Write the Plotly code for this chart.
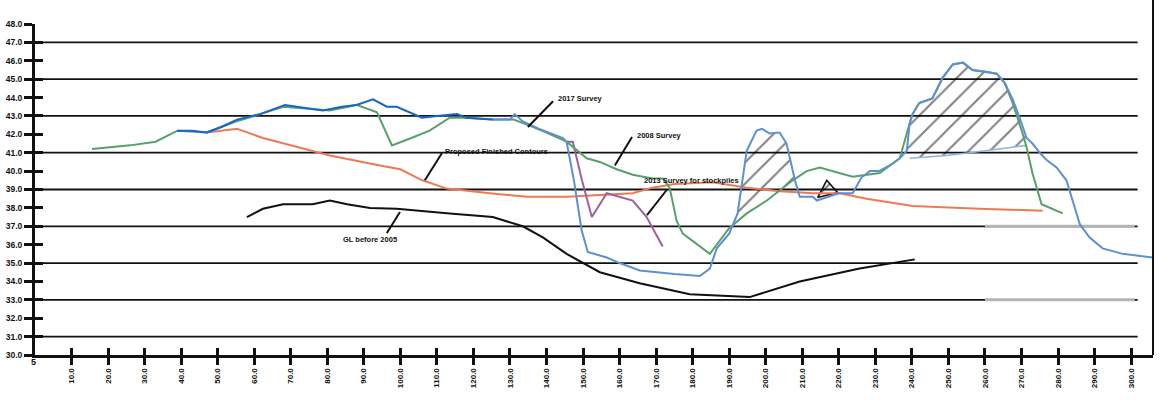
import plotly.graph_objects as go

# ---- chainage (m) / level (m) data -------------------------------------
survey_2017_west_x = [38.9, 43, 47, 51, 55.3, 61.6, 68.4, 73, 78.8, 84, 88, 92.5, 94.5, 96.3, 99,
                      105.9, 110, 115.5, 118, 125.3]
survey_2017_west_y = [42.2, 42.2, 42.1, 42.4, 42.8, 43.1, 43.6, 43.45, 43.3, 43.5, 43.6, 43.9, 43.7,
                      43.5, 43.5, 42.9, 43.0, 43.1, 42.9, 42.8]

survey_2017_east_x = [125.3, 130, 131.3, 133.5, 138, 144.5, 145.5, 147.5, 149.6, 151.3, 156.5, 160,
                      165.5, 175, 182, 184.7, 186.6, 190, 192.3, 193.4, 194.8, 197.5, 199, 201,
                      203.8, 205.7, 208, 209.3, 212.9, 214, 217, 220, 223.8, 226.2, 228.5, 231,
                      234.7, 236.7, 238.6, 239.4, 240.2, 242, 245.6, 248.5, 251.2, 254, 256.6,
                      260.5, 263.2, 265.4, 267.6, 269.5, 271.4, 273, 275, 276.9, 279.6, 282.3,
                      284, 286, 288.6, 292.2, 297.7, 305.9]
survey_2017_east_y = [42.8, 42.8, 43.1, 42.7, 42.3, 41.8, 41.6, 39.5, 36.8, 35.6, 35.3, 35.0,
                      34.6, 34.4, 34.3, 34.7, 35.8, 36.6, 37.7, 39.3, 41.1, 42.2, 42.3, 42.05,
                      42.1, 41.5, 39.5, 38.6, 38.6, 38.4, 38.6, 38.8, 38.8, 39.65, 40.0, 40.0,
                      40.4, 40.7, 41.1, 42.6, 43.1, 43.7, 43.95, 45.1, 45.8, 45.9, 45.5,
                      45.4, 45.3, 44.8, 43.9, 42.9, 41.8, 41.5, 41.0, 40.6, 40.2, 39.5,
                      38.4, 37.1, 36.4, 35.8, 35.5, 35.3]

survey_2008_x = [15.6, 26, 33, 39, 47, 55, 61.6, 68, 80.7, 88, 93.6, 97.7, 103, 108, 113.5, 118,
                 125, 131, 135, 140, 145.5, 151, 154.6, 159.2, 163.6, 169, 171.8, 173.7, 175.6,
                 177.3, 184.7, 190, 194.8, 200.3, 207.4, 211.2, 214.8, 220.2, 223.8, 231.2,
                 236.7, 239.4, 240.2, 242, 245.6, 248.5, 251.2, 254, 256.6, 260.5, 263.2,
                 265.4, 267.6, 270.3, 271.4, 273, 275.5, 281.3]
survey_2008_y = [41.2, 41.4, 41.6, 42.2, 42.1, 42.7, 43.1, 43.5, 43.3, 43.6, 43.2, 41.4, 41.8,
                 42.2, 42.9, 42.9, 42.8, 42.8, 42.5, 42.1, 41.6, 40.7, 40.5, 40.1, 39.8, 39.6,
                 39.6, 39.1, 37.3, 36.6, 35.5, 36.9, 37.7, 38.4, 39.5, 40.0, 40.2, 39.9, 39.7,
                 39.9, 40.7, 42.6, 43.1, 43.7, 43.95, 45.1, 45.8, 45.9, 45.5, 45.4, 45.3,
                 44.8, 43.7, 42.05, 41.3, 39.9, 38.2, 37.7]

proposed_x = [47, 55.3, 62.4, 70, 80.7, 94.4, 100, 106, 112.7, 124.5, 134.6, 145.5, 154.6, 163.6,
              169, 171.8, 175, 185.5, 194.8, 203.8, 212.9, 220.2, 227.6, 240.2, 258.5, 275.8]
proposed_y = [42.1, 42.3, 41.8, 41.4, 40.85, 40.3, 40.1, 39.5, 39.05, 38.8, 38.6, 38.6, 38.7,
              38.8, 39.1, 39.2, 39.3, 39.4, 39.1, 38.9, 38.8, 38.8, 38.5, 38.1, 37.95, 37.85]

survey_2013_x = [145.5, 147.2, 149.7, 152.4, 156.5, 160, 163.6, 167.4, 171.8]
survey_2013_y = [41.6, 41.6, 39.5, 37.5, 38.8, 38.6, 38.4, 37.5, 35.9]

ground_2005_x = [58, 62.4, 67.9, 76, 80.7, 85.4, 91.7, 99, 113.5, 125.3, 133.5, 139, 145.5,
                 154.6, 165.5, 179.2, 195.6, 209.3, 225.7, 240.8]
ground_2005_y = [37.5, 37.95, 38.2, 38.2, 38.4, 38.2, 38.0, 37.95, 37.7, 37.5, 37.0, 36.4, 35.5,
                 34.5, 33.9, 33.3, 33.15, 34.0, 34.7, 35.2]

# hatched stockpile areas
pile_a_x = [190, 192.3, 193.4, 194.8, 197.5, 199, 201, 203.8, 205.7, 208, 207.4, 200.3, 194.8, 190]
pile_a_y = [36.6, 37.7, 39.3, 41.1, 42.2, 42.3, 42.05, 42.1, 41.5, 39.5, 39.5, 38.4, 37.7, 36.9]
pile_b_x = [214.2, 216.7, 219.7, 214.2]
pile_b_y = [38.56, 39.5, 38.83, 38.56]
pile_c_x = [236.7, 238.6, 239.4, 240.2, 242, 245.6, 248.5, 251.2, 254, 256.6, 260.5, 263.2,
            265.4, 267.6, 269.5, 271.4, 271.4, 255.8, 249.5, 239.4, 236.7]
pile_c_y = [40.7, 41.1, 42.6, 43.1, 43.7, 43.95, 45.1, 45.8, 45.9, 45.5, 45.4, 45.3, 44.8,
            43.9, 42.9, 41.8, 41.4, 41.0, 40.85, 40.7, 40.7]
pile_c_base_x = [239.4, 249.5, 255.8, 271.4]
pile_c_base_y = [40.7, 40.85, 41.0, 41.4]

# grey reference segments
grey_levels = [37.0, 33.0]
grey_from, grey_to = 260.0, 301.0

grid_levels = [31, 33, 35, 37, 39, 41, 43, 45, 47]
x_ticks = [10 * i for i in range(1, 31)]
x_tick_text = [f"{v:.1f}" for v in x_ticks]

# labels: text, text anchor (x, y), leader line start, leader line end
labels = [
    ("2017 Survey", 149.2, 43.97, (141.8, 43.8), (134.9, 42.4)),
    ("Proposed Finished Contours", 126.4, 41.04, (111.4, 40.98), (106.7, 39.5)),
    ("2008 Survey", 171.0, 41.96, (163.4, 41.85), (158.7, 40.3)),
    ("2013 Survey for stockpiles", 179.8, 39.5, (173.0, 39.0), (167.5, 37.6)),
    ("GL before 2005", 91.7, 36.3, (96.3, 36.63), (99.9, 37.78)),
]

fig = go.Figure()

hatch = dict(shape="/", size=15, solidity=0.13, fgcolor="#000000", bgcolor="rgba(0,0,0,0)")
for px_, py_, outline in [(pile_a_x, pile_a_y, 0), (pile_c_x, pile_c_y, 0), (pile_b_x, pile_b_y, 1.6)]:
    fig.add_trace(go.Scatter(x=px_, y=py_, mode="lines", fill="toself",
                             fillcolor="rgba(0,0,0,0)", fillpattern=hatch,
                             line=dict(color="#111111", width=outline if outline else 0.01),
                             hoverinfo="skip", showlegend=False))

fig.add_trace(go.Scatter(x=pile_c_base_x, y=pile_c_base_y, mode="lines",
                         line=dict(color="#8fb2de", width=1.6), showlegend=False))

for lvl in grey_levels:
    fig.add_trace(go.Scatter(x=[grey_from, grey_to], y=[lvl, lvl], mode="lines",
                             line=dict(color="#b4b4b4", width=3), showlegend=False))

series = [
    (ground_2005_x, ground_2005_y, "#111111"),
    (proposed_x, proposed_y, "#ee7a55"),
    (survey_2013_x, survey_2013_y, "#a0609e"),
    (survey_2008_x, survey_2008_y, "#58a06a"),
    (survey_2017_east_x, survey_2017_east_y, "#5d8fd3"),
    (survey_2017_west_x, survey_2017_west_y, "#1a64c8"),
]
for sx, sy, col in series:
    fig.add_trace(go.Scatter(x=sx, y=sy, mode="lines", line=dict(color=col, width=2),
                             showlegend=False))

# companion axes carrying the inner half of the cross ticks
fig.add_trace(go.Scatter(x=[None], y=[None], xaxis="x2", yaxis="y2", showlegend=False))

shapes = []
for g in grid_levels:
    shapes.append(dict(type="line", xref="x", yref="y", x0=0, x1=301.8, y0=g, y1=g,
                       line=dict(color="#111111", width=1.8), layer="below"))
shapes.append(dict(type="line", xref="paper", yref="paper", x0=1, x1=1, y0=0, y1=1.075,
                   line=dict(color="#111111", width=2)))

annotations = []
for text, tx, ty, (x0, y0), (x1, y1) in labels:
    shapes.append(dict(type="line", xref="x", yref="y", x0=x0, y0=y0, x1=x1, y1=y1,
                       line=dict(color="#111111", width=2)))
    annotations.append(dict(x=tx, y=ty, xref="x", yref="y", text=text, showarrow=False,
                            font=dict(family="Liberation Sans, Arial", size=7.5,
                                      color="#111111", weight="bold")))
annotations.append(dict(x=0, y=0, xref="x", yref="paper", text="5", showarrow=False,
                        yshift=-14, xshift=-2,
                        font=dict(family="Liberation Sans, Arial", size=9,
                                  color="#111111", weight="bold")))

tickfont = dict(family="Liberation Sans, Arial", size=8, color="#111111", weight="bold")
fig.update_layout(
    width=1160, height=405,
    margin=dict(l=35, r=7, t=24, b=50),
    paper_bgcolor="white", plot_bgcolor="white",
    showlegend=False,
    shapes=shapes, annotations=annotations,
    xaxis=dict(range=[0, 306], tickmode="array", tickvals=x_ticks, ticktext=x_tick_text,
               tickangle=-90, ticks="outside", ticklen=7, tickwidth=2.5, tickcolor="#111111",
               showline=True, linecolor="#111111", linewidth=3, showgrid=False,
               zeroline=False, tickfont=tickfont),
    yaxis=dict(range=[30, 48], tick0=30, dtick=1, tickformat=".1f", ticks="outside",
               ticklen=8, tickwidth=2.5, tickcolor="#111111", showline=True,
               linecolor="#111111", linewidth=3, showgrid=False, zeroline=False,
               tickfont=dict(family="Liberation Sans, Arial", size=8.5, color="#111111",
                             weight="bold")),
    xaxis2=dict(overlaying="x", anchor="y2", side="bottom", range=[0, 306], tickmode="array",
                tickvals=x_ticks, ticks="inside", ticklen=7, tickwidth=2.5,
                tickcolor="#111111", showticklabels=False, showline=False, showgrid=False,
                zeroline=False),
    yaxis2=dict(overlaying="y", anchor="x2", side="left", range=[30, 48], tick0=30, dtick=1,
                ticks="inside", ticklen=8, tickwidth=2.5, tickcolor="#111111",
                showticklabels=False, showline=False, showgrid=False, zeroline=False),
)

fig.write_html("out.html")
